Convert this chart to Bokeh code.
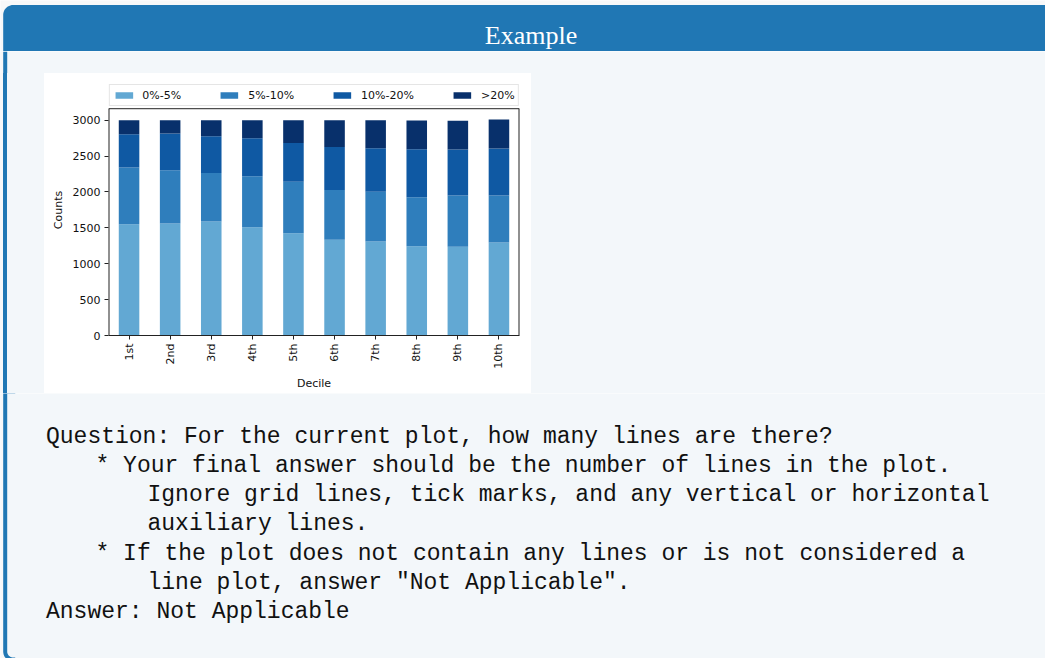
import math
import numpy as np
from bokeh.plotting import figure
from bokeh.models import (ColumnDataSource, FactorRange, Range1d, Legend, LegendItem,
                          FixedTicker, Div)
from bokeh.layouts import column, row
from bokeh.core.properties import value
from bokeh.embed import file_html
from bokeh.resources import INLINE

# ---------------- data ----------------
deciles = ["1st", "2nd", "3rd", "4th", "5th", "6th", "7th", "8th", "9th", "10th"]
series_names = ["0%-5%", "5%-10%", "10%-20%", ">20%"]
s_0_5 = [1551, 1560, 1588, 1509, 1426, 1333, 1310, 1245, 1235, 1296]
s_5_10 = [790, 743, 678, 711, 715, 696, 692, 682, 715, 654]
s_10_20 = [464, 511, 511, 529, 543, 599, 608, 669, 641, 655]
s_20p = [195, 186, 223, 251, 316, 372, 390, 399, 400, 404]
y_ticks = [0, 500, 1000, 1500, 2000, 2500, 3000]
y_axes_top = 3160          # top of the axes box (autoscale margin)
x_label = "Decile"
y_label = "Counts"

box_title = "Example"
text_lines = [
    "Question: For the current plot, how many lines are there?",
    "* Your final answer should be the number of lines in the plot.",
    "Ignore grid lines, tick marks, and any vertical or horizontal",
    "auxiliary lines.",
    "* If the plot does not contain any lines or is not considered a",
    "line plot, answer \"Not Applicable\".",
    "Answer: Not Applicable",
]
text_x = [45.5, 95, 147, 147, 95, 147, 45.5]
text_y = [43.3, 72.5, 101.7, 130.9, 160.1, 189.3, 218.5]

# ---------------- styles ----------------
PAGE = "#f7f8f9"
BLUE = "#2077b4"
BODY = "#f3f7fa"
SPINE = "#222222"
bar_colors = ["#62a8d3", "#2f7ebc", "#0f59a3", "#08306b"]
TOTAL_W = 1045
BX0, BX1 = 2.7, 6.7   # left border of the box
RAD = 10


def panel(w, h, bg=BODY):
    return figure(width=w, height=h, x_range=Range1d(0, w), y_range=Range1d(h, 0),
                  x_axis_type=None, y_axis_type=None, toolbar_location=None,
                  output_backend="svg", min_border=0, title=None,
                  outline_line_color=None, background_fill_color=bg,
                  border_fill_color=bg)


def arc(cx, cy, r, a0, a1, n=12):
    t = np.linspace(math.radians(a0), math.radians(a1), n)
    return list(cx + r * np.cos(t)), list(cy + r * np.sin(t))


# ---- title band (y 0..51) ----
title_fig = panel(TOTAL_W, 51, bg=PAGE)
ax_, ay_ = arc(BX0 + RAD, 4.5 + RAD, RAD, 180, 270)
title_fig.patch(x=[BX0] + ax_ + [TOTAL_W + 5, TOTAL_W + 5, BX0],
                y=[51] + ay_ + [4.5, 51, 51], color=BLUE, line_color=None)
title_fig.text(x=[530.5], y=[35], text=[box_title], text_color="white",
               text_font=value("Liberation Serif"), text_font_size="26px",
               text_align="center", text_baseline="alphabetic")

# ---- gap band (y 51..73) ----
gap_fig = panel(TOTAL_W, 22)
gap_fig.quad(left=0, right=BX0, top=0, bottom=22, color=PAGE, line_color=None)
gap_fig.quad(left=BX0, right=BX1, top=0, bottom=22, color=BLUE, line_color=None)

# ---- chart (x 44..531, y 73..393) ----
FRAME_H = 251
y_top = FRAME_H * 3000 / 215.3
src = ColumnDataSource(dict(decile=deciles, a=s_0_5, b=s_5_10, c=s_10_20, d=s_20p))
p = figure(x_range=FactorRange(*deciles), y_range=Range1d(0, y_top),
           width=487, height=320,
           min_border_left=64, min_border_right=12, min_border_top=11, min_border_bottom=58,
           toolbar_location=None, output_backend="svg", title=None,
           background_fill_color="white", border_fill_color="white")
rs = p.vbar_stack(["a", "b", "c", "d"], x="decile", width=0.5, source=src,
                  color=bar_colors, line_color=None)
# axes box (matplotlib spines): left, right (half clipped at frame edge), top
x_lo = (deciles[0], -0.5)
x_hi = (deciles[-1], 0.5)
p.segment(x0=[x_lo, x_hi], x1=[x_lo, x_hi], y0=[0, 0], y1=[y_axes_top, y_axes_top],
          line_color=SPINE, line_width=2)
p.segment(x0=[x_lo], x1=[x_hi], y0=[y_axes_top], y1=[y_axes_top],
          line_color=SPINE, line_width=1)

legend = Legend(items=[LegendItem(label=n, renderers=[r]) for n, r in zip(series_names, rs)],
                orientation="horizontal", location="top_center",
                glyph_width=22, glyph_height=8, label_standoff=8, label_width=20,
                label_height=14, spacing=37, padding=3, margin=0,
                label_text_font="DejaVu Sans", label_text_font_size="11px",
                label_text_color="#111111",
                border_line_color="#cccccc", border_line_width=1,
                background_fill_color="white", background_fill_alpha=0.8)
p.add_layout(legend, "center")

p.outline_line_color = None
p.xgrid.visible = False
p.ygrid.visible = False
p.yaxis.ticker = FixedTicker(ticks=y_ticks)
for ax in (p.xaxis[0], p.yaxis[0]):
    ax.axis_line_color = SPINE
    ax.major_tick_line_color = SPINE
    ax.major_tick_out = 4
    ax.major_tick_in = 0
    ax.minor_tick_line_color = None
    ax.major_label_text_font = "DejaVu Sans"
    ax.major_label_text_font_size = "11px"
    ax.major_label_text_color = "#111111"
    ax.major_label_standoff = 4
    ax.axis_label_text_font = "DejaVu Sans"
    ax.axis_label_text_font_size = "11px"
    ax.axis_label_text_font_style = "normal"
    ax.axis_label_text_color = "#111111"
    ax.axis_label_standoff = 5
p.yaxis.axis_line_color = None
p.xaxis.axis_label = x_label
p.yaxis.axis_label = y_label
p.xaxis.major_label_orientation = math.pi / 2

strip_bg = (f"linear-gradient(to right, {PAGE} 0px, {PAGE} {BX0}px, {BLUE} {BX0}px, "
            f"{BLUE} {BX1}px, {BODY} {BX1}px, {BODY} 100%)")
left_div = Div(text="", width=44, height=320, margin=(0, 0, 0, 0),
               styles={"background": strip_bg})
right_div = Div(text="", width=TOTAL_W - 531, height=320, margin=(0, 0, 0, 0),
                styles={"background": BODY})

# ---- text band (y 393..658); box bottom lies just below the picture ----
TH = 265
text_fig = panel(TOTAL_W, TH, bg=BODY)
bottom = 661 - 393
text_fig.quad(left=0, right=BX0, top=0, bottom=TH, color=PAGE, line_color=None)
bx_, by_ = arc(BX0 + RAD, bottom - RAD, RAD, 180, 90)
text_fig.patch(x=[BX0, BX0] + bx_ + [BX0 + RAD + 2, BX0 + RAD + 2],
               y=[-1, bottom - RAD] + by_ + [bottom, -1],
               color=BLUE, line_color=None)
ix_, iy_ = arc(BX0 + RAD, bottom - RAD, RAD - (BX1 - BX0), 180, 90)
text_fig.patch(x=[BX1, BX1] + ix_ + [BX0 + RAD + 3, BX0 + RAD + 3],
               y=[-1, bottom - RAD] + iy_ + [bottom - (BX1 - BX0), -1],
               color=BODY, line_color=None)
text_fig.text(x=text_x, y=text_y, text=text_lines, text_color="#111111",
              text_font=value("Liberation Mono"), text_font_size="23px",
              text_align="left", text_baseline="alphabetic")

layout = column(title_fig, gap_fig, row(left_div, p, right_div, spacing=0), text_fig,
                spacing=0)

open("out.html", "w").write(file_html(layout, INLINE))
